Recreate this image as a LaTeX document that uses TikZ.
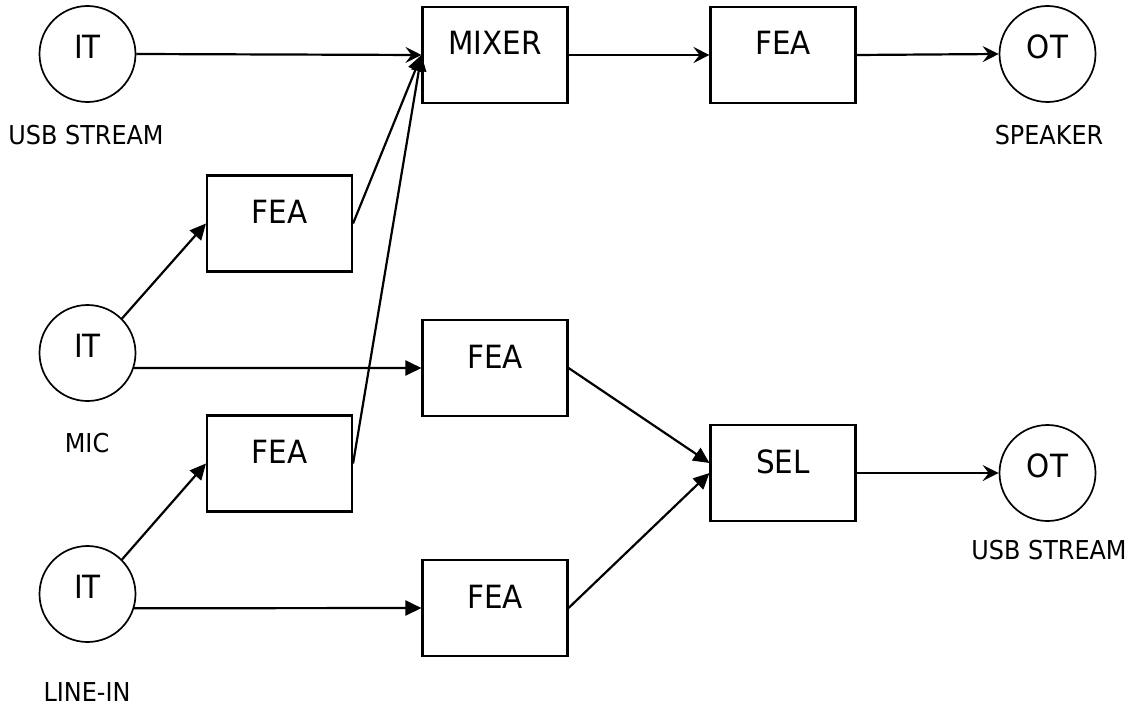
\documentclass[tikz,border=0pt]{standalone}
\usepackage{fontspec}
\setmainfont{DejaVu Sans}[FakeStretch=0.92]
\usetikzlibrary{arrows.meta}

\tikzset{
  blockbox/.style={draw, line width=2.1pt, minimum width=145pt, minimum height=96pt,
    inner sep=0pt, font=\fontsize{32}{36}\selectfont, text height=23pt, text depth=23pt},
  port/.style={draw, circle, line width=1.7pt, minimum size=96pt, inner sep=0pt,
    font=\fontsize{32}{36}\selectfont, text height=23pt, text depth=14pt},
  caption/.style={inner sep=0pt, font=\fontsize{26}{29}\selectfont, text height=19pt, text depth=0pt},
  flow/.style={line width=2.2pt, -{Stealth[length=16pt, width=16pt, inset=6pt]}},
  feed/.style={line width=2.2pt, -{Triangle[length=16pt, width=15pt]}},
}

\begin{document}
\begin{tikzpicture}[x=1pt, y=-1pt]
  \useasboundingbox (0,0) rectangle (1132,709);

  % sources
  \node[port] (it1) at (87.5,54)  {IT};
  \node[port] (it2) at (87.5,353) {IT};
  \node[port] (it3) at (87.5,594) {IT};
  % sinks
  \node[port] (ot1) at (1047.5,54)  {OT};
  \node[port] (ot2) at (1047.5,473) {OT};

  % processing blocks
  \node[blockbox] (mixer) at (495,55)    {MIXER};
  \node[blockbox] (feaT)  at (783,55)    {FEA};
  \node[blockbox] (fea1)  at (279.5,223.5) {FEA};
  \node[blockbox] (fea2)  at (495,368)   {FEA};
  \node[blockbox] (fea3)  at (279.5,463.5) {FEA};
  \node[blockbox] (sel)   at (783,473)   {SEL};
  \node[blockbox] (fea4)  at (495,608)   {FEA};

  % captions
  \node[caption] (cUsbIn)  at (86,134.5)   {USB STREAM};
  \node[caption] (cSpk)    at (1049,134.5) {SPEAKER};
  \node[caption] (cMic)    at (87,443)     {MIC};
  \node[caption] (cUsbOut) at (1049,549.5) {USB STREAM};
  \node[caption] (cLine)   at (87,691.5)   {LINE-IN};

  % playback path
  \draw[flow] (it1.east) -- (mixer.west);
  \draw[flow] (mixer.east) -- (feaT.west);
  \draw[flow] (feaT.east) -- (ot1.west);
  \draw[feed] (fea1.east) -- (mixer.west);
  \draw[feed] (fea3.east) -- (mixer.west);

  % capture inputs
  \draw[feed] (it2.45) -- (fea1.west);
  \draw[feed] (it2.-18) -- (fea2.west);
  \draw[feed] (it3.45) -- (fea3.west);
  \draw[feed] (it3.-17) -- (fea4.west);

  % selector path
  \draw[feed] (fea2.east) -- ([yshift=10pt]sel.west);
  \draw[feed] (fea4.east) -- (sel.west);
  \draw[flow] (sel.east) -- (ot2.west);
\end{tikzpicture}
\end{document}
